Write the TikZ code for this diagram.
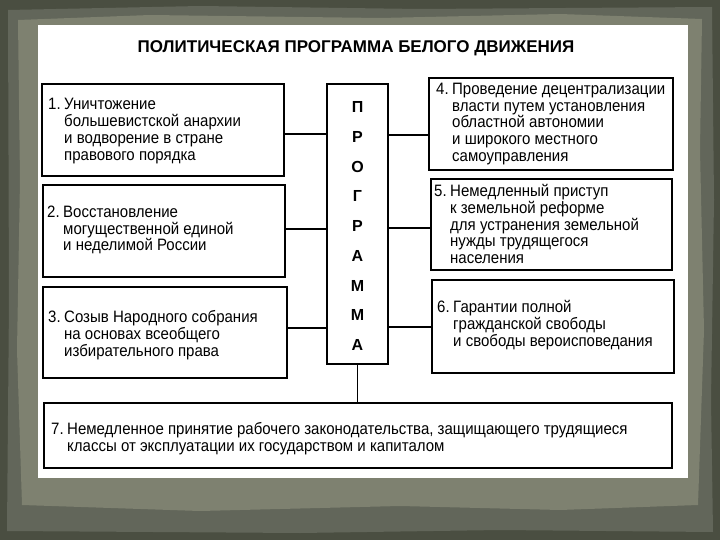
\documentclass[tikz,border=0pt]{standalone}
\usepackage{fontspec}
\setmainfont{Liberation Sans}
\newfontfamily\cond[FakeStretch=0.91]{Liberation Sans}
\definecolor{bgdark}{HTML}{4A4E41}
\definecolor{bgmid}{HTML}{7E8170}
\definecolor{bgedge}{HTML}{62665A}
\tikzset{
  boxline/.style={draw=black, line width=1.5pt},
  conn/.style={draw=black, line width=1.2pt},
  body/.style={anchor=west, inner sep=0pt, align=left, font=\cond\fontsize{16.5}{16.8}\selectfont},
  title/.style={inner sep=0pt, font=\bfseries\fontsize{17}{19}\selectfont},
  boxnode/.style={inner sep=0pt},
}
\newcommand{\nm}[1]{\makebox[16pt][l]{#1}}
\newcommand{\ind}{\hspace*{16pt}}
\begin{document}
\begin{tikzpicture}[x=1pt,y=-1pt]
\useasboundingbox (0,0) rectangle (720,540);
% background frame
\fill[bgdark] (0,0) rectangle (720,540);
\fill[bgedge] (8,10) -- (200,6) -- (420,9) -- (712,7) -- (714,200) -- (711,400) -- (713,532) -- (500,530) -- (300,533) -- (7,531) -- (9,300) -- cycle;
\fill[bgmid] (18,20) -- (150,15) -- (380,18) -- (560,14) -- (702,19) -- (700,150) -- (704,330) -- (698,505) -- (560,510) -- (400,506) -- (200,511) -- (22,505) -- (17,350) -- (20,180) -- cycle;
\fill[white] (38,25) rectangle (688,478);
% title
\node[title] (t) at (356,48) {ПОЛИТИЧЕСКАЯ ПРОГРАММА БЕЛОГО ДВИЖЕНИЯ};
% boxes
\node[boxnode, minimum width=242pt, minimum height=92pt] (b1) at (163,130) {};
\node[boxnode, minimum width=242pt, minimum height=92pt] (b2) at (164,231) {};
\node[boxnode, minimum width=244pt, minimum height=91pt] (b3) at (165,332.5) {};
\node[boxnode, minimum width=244pt, minimum height=92pt] (b4) at (551,124) {};
\node[boxnode, minimum width=241pt, minimum height=91pt] (b5) at (551.5,224.5) {};
\node[boxnode, minimum width=242pt, minimum height=93pt] (b6) at (553,326.5) {};
\node[boxnode, minimum width=628pt, minimum height=65pt] (b7) at (358,435.5) {};
\node[boxnode, minimum width=61pt, minimum height=280pt] (prog) at (357.5,224) {};
\foreach \b in {b1,b2,b3,b4,b5,b6,b7,prog} {\draw[boxline] (\b.north west) rectangle (\b.south east);}
% texts
\node[body] (x1) at (48,131) {\nm{1.}Уничтожение\\\ind большевистской анархии\\\ind и водворение в стране\\\ind правового порядка};
\node[body] (x2) at (47,230) {\nm{2.}Восстановление\\\ind могущественной единой\\\ind и неделимой России};
\node[body] (x3) at (48,335) {\nm{3.}Созыв Народного собрания\\\ind на основах всеобщего\\\ind избирательного права};
\node[body] (x4) at (436,124) {\nm{4.}Проведение децентрализации\\\ind власти путем установления\\\ind областной автономии\\\ind и широкого местного\\\ind самоуправления};
\node[body] (x5) at (434,224) {\nm{5.}Немедленный приступ\\\ind к земельной реформе\\\ind для устранения земельной\\\ind нужды трудящегося\\\ind населения};
\node[body] (x6) at (437,325) {\nm{6.}Гарантии полной\\\ind гражданской свободы\\\ind и свободы вероисповедания};
\node[body] (x7) at (51,438.5) {\nm{7.}Немедленное принятие рабочего законодательства, защищающего трудящиеся\\\ind классы от эксплуатации их государством и капиталом};
\node[inner sep=0pt, align=center, font=\bfseries\fontsize{16}{29.75}\selectfont] (letters) at (357.5,226) {П\\Р\\О\\Г\\Р\\А\\М\\М\\А};
% connectors
\draw[conn] (b1.east |- 0,134) -- (prog.west |- 0,134);
\draw[conn] (b2.east |- 0,229) -- (prog.west |- 0,229);
\draw[conn] (b3.east |- 0,328) -- (prog.west |- 0,328);
\draw[conn] (prog.east |- 0,135) -- (b4.west |- 0,135);
\draw[conn] (prog.east |- 0,228) -- (b5.west |- 0,228);
\draw[conn] (prog.east |- 0,327) -- (b6.west |- 0,327);
\draw[conn] (prog.south) -- (prog.south |- b7.north);
\end{tikzpicture}
\end{document}
